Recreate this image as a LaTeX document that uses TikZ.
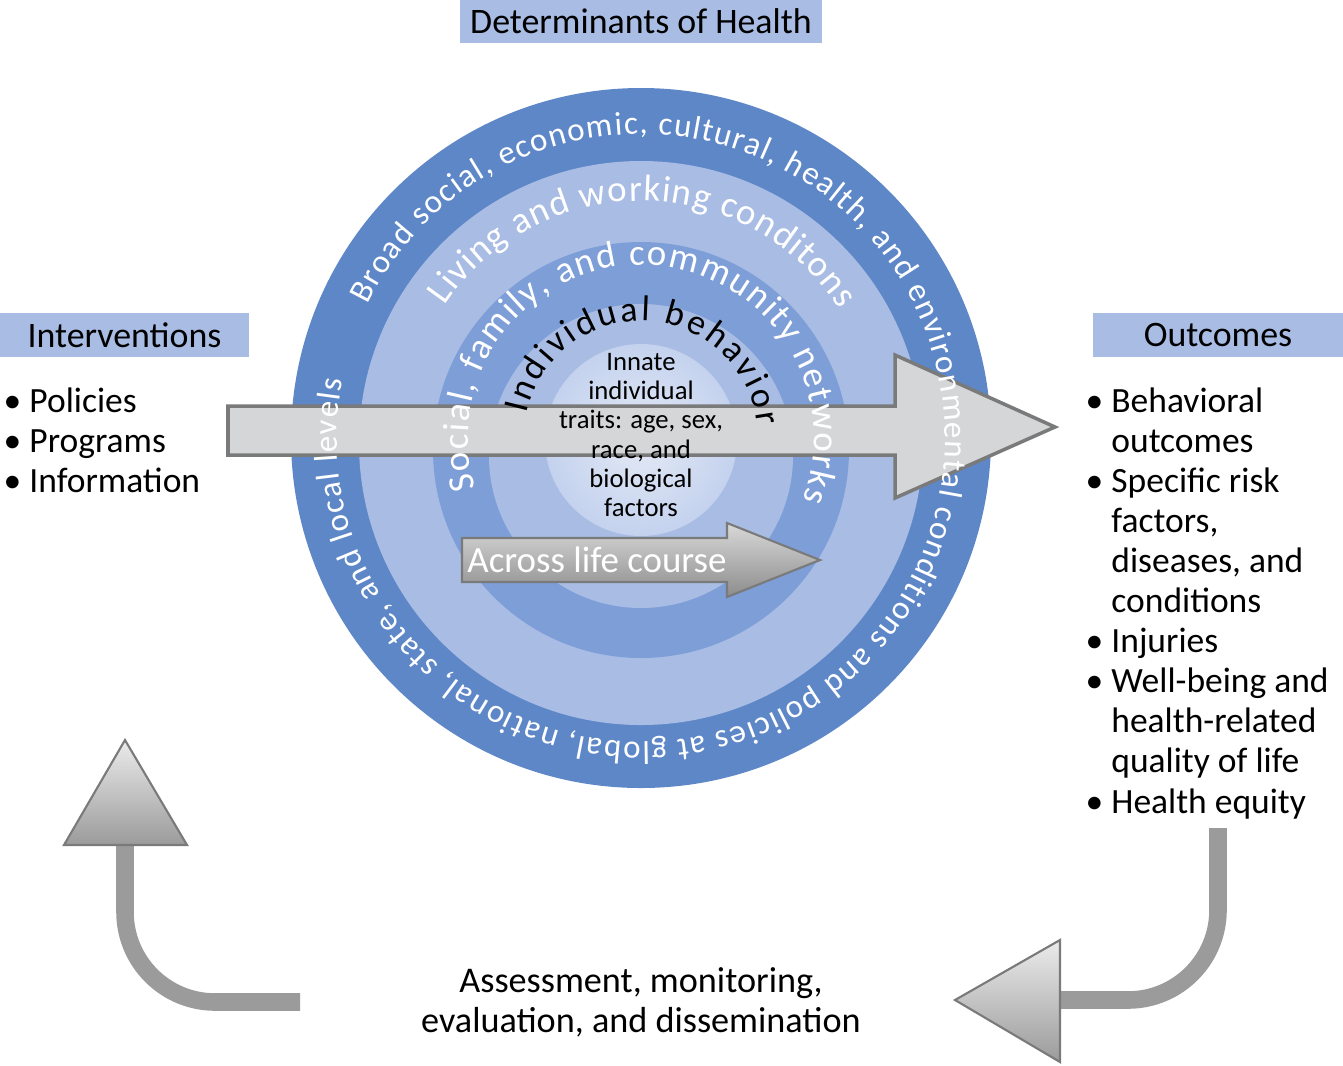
\documentclass[tikz,border=0pt]{standalone}
\usepackage{fontspec}
\setmainfont{Carlito}
\usepackage{tikz}
\usetikzlibrary{positioning, decorations.text, shapes.arrows}

\definecolor{ringdark}{HTML}{5E87C8}
\definecolor{ringlight}{HTML}{A8BCE4}
\definecolor{ringmid}{HTML}{7E9ED8}
\definecolor{corelight}{HTML}{E4EAF6}
\definecolor{coreedge}{HTML}{C4D2EE}
\definecolor{arrowfill}{HTML}{D4D6D7}
\definecolor{arrowedge}{HTML}{7A7A7A}
\definecolor{loopgray}{HTML}{9B9B9B}

\begin{document}
\begin{tikzpicture}[
  title box/.style={fill=ringlight, inner sep=0pt, minimum height=0.44cm, font=\fontsize{10.2}{12}\selectfont},
  list text/.style={align=left, inner sep=0pt, font=\fontsize{10.1}{11.4}\selectfont},
  ring text/.style={decorate, decoration={text along path, text align=fit to path, text={#1}}},
  loop line/.style={line width=5pt, loopgray},
  loop head/.style={draw=arrowedge, line width=0.6pt, top color=white!80!loopgray, bottom color=loopgray}]

\useasboundingbox (0,0) rectangle (13.43,-10.65);
\coordinate (C) at (6.41,-4.38);

% rings
\fill[ringdark]  (C) circle[radius=3.50];
\fill[ringlight] (C) ++(0,-0.05) circle[radius=2.82];
\fill[ringmid]   (C) ++(0,-0.12) circle[radius=2.08];
\fill[ringlight] (C) ++(0,-0.18) circle[radius=1.52];
\shade[inner color=corelight, outer color=coreedge] (C) ++(0,-0.02) circle[radius=0.96];

% big arrow
\filldraw[fill=arrowfill, draw=arrowedge, line width=1pt]
  (2.28,-4.06) -- (8.95,-4.06) -- (8.95,-3.55) -- (10.55,-4.27) -- (8.95,-4.98) -- (8.95,-4.55) -- (2.28,-4.55) -- cycle;

% ring texts
\path[ring text={|\color{white}\fontsize{9.4}{11}\selectfont|Broad social, economic, cultural, health, and environmental conditions and policies at global, national, state, and local levels}]
  (C) ++(154:3.04) arc[start angle=154, end angle=-191, radius=3.04];
\path[ring text={|\color{white}\fontsize{10.5}{12}\selectfont|Living and working conditons}]
  (C) ++(146:2.37) arc[start angle=146, end angle=33, radius=2.37];
\path[ring text={|\color{white}\fontsize{10.5}{12}\selectfont|Social, family, and community networks}]
  (C) ++(197:1.73) arc[start angle=197, end angle=-21, radius=1.73];
\path[ring text={|\fontsize{10.2}{12}\selectfont|Individual behavior}]
  (C) ++(168:1.17) arc[start angle=168, end angle=6, radius=1.17];

\node[align=center, inner sep=0pt, font=\fontsize{7.6}{8.3}\selectfont] (core) at (6.41,-4.35)
  {Innate\\individual\\traits: age, sex,\\race, and\\biological\\factors};

% life course arrow
\shade[top color=white!85!black, bottom color=black!45, draw=arrowedge, line width=0.6pt]
  (4.62,-5.38) -- (7.27,-5.38) -- (7.27,-5.23) -- (8.20,-5.60) -- (7.27,-5.97) -- (7.27,-5.82) -- (4.62,-5.82) -- cycle;
\node[text=white, inner sep=0pt, font=\fontsize{10.5}{12}\selectfont] (life) at (5.97,-5.60) {Across life course};

% titles
\node[title box, minimum width=3.62cm] (det) at (6.41,-0.21) {Determinants of Health};
\node[title box, minimum width=2.49cm] (int) at (1.245,-3.35) {Interventions};
\node[title box, minimum width=2.50cm] (out) at (12.18,-3.35) {Outcomes};

% lists
\node[list text, anchor=north west] (intlist) at (0.03,-3.87)
  {\textbullet\ Policies\\\textbullet\ Programs\\\textbullet\ Information};
\node[list text, anchor=north west] (outlist) at (10.85,-3.87)
  {\textbullet\ Behavioral\\\phantom{\textbullet\ }outcomes\\
   \textbullet\ Specific risk\\\phantom{\textbullet\ }factors,\\\phantom{\textbullet\ }diseases, and\\\phantom{\textbullet\ }conditions\\
   \textbullet\ Injuries\\
   \textbullet\ Well-being and\\\phantom{\textbullet\ }health-related\\\phantom{\textbullet\ }quality of life\\
   \textbullet\ Health equity};
\node[list text, align=center, font=\fontsize{10.3}{11.4}\selectfont] (assess) at (6.41,-10.02)
  {Assessment, monitoring,\\evaluation, and dissemination};

% feedback loop
\draw[loop line] (12.18,-8.28) -- (12.18,-9.10) arc[start angle=0, end angle=-90, radius=0.9] -- (10.55,-10.00);
\shade[loop head] (9.55,-10.00) -- (10.60,-9.40) -- (10.60,-10.62) -- cycle;
\draw[loop line] (3.00,-10.02) -- (2.15,-10.02) arc[start angle=270, end angle=180, radius=0.9] -- (1.25,-8.40);
\shade[loop head] (1.25,-7.40) -- (1.87,-8.45) -- (0.64,-8.45) -- cycle;
\end{tikzpicture}
\end{document}
